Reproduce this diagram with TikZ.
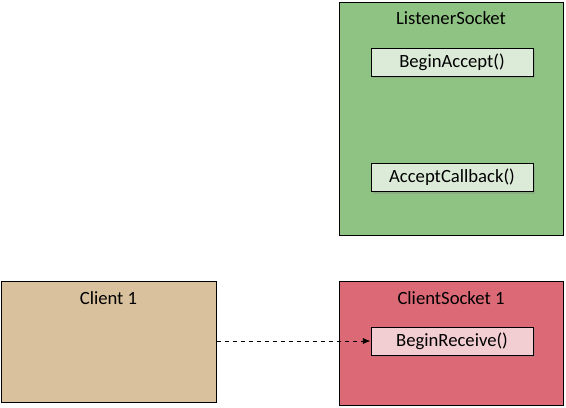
\documentclass[tikz,border=0pt]{standalone}
\usepackage{fontspec}
\setmainfont{Carlito}
\usepackage{tikz}
\usetikzlibrary{positioning,arrows.meta,shadows}

\definecolor{lsgreen}{RGB}{143,195,131}
\definecolor{lsgreenlight}{RGB}{220,235,216}
\definecolor{clienttan}{RGB}{217,193,158}
\definecolor{csred}{RGB}{219,106,118}
\definecolor{csredlight}{RGB}{242,205,210}

\begin{document}
\begin{tikzpicture}[
            x=0.75pt, y=-0.75pt,
            font=\fontsize{14}{16}\selectfont,
            box/.style={rectangle, draw, line width=0.75pt, inner sep=0pt},
            method/.style={box, minimum width=121.5pt, minimum height=21pt,
                drop shadow={shadow xshift=1.5pt, shadow yshift=-1.5pt, opacity=0.3}},
            title/.style={inner sep=0pt, anchor=base},
            arrow/.style={-{Latex[length=2mm,width=1.6mm]}, dashed, line width=0.6pt}
        ]
            \useasboundingbox (0,0) rectangle (566,407);
            % listener socket
            \node[box, fill=lsgreen, minimum width=168pt, minimum height=174.75pt] (lsock) at (451,118.5) {};
            \node[title] (lsocktitle) at (451,24) {ListenerSocket};
            \node[method, fill=lsgreenlight] (accept) at (452,62) {BeginAccept()};
            \node[method, fill=lsgreenlight] (callback) at (452,177.5) {AcceptCallback()};
            % client
            \node[box, fill=clienttan, minimum width=161.25pt, minimum height=90.75pt] (client) at (108.5,341.5) {};
            \node[title] (clienttitle) at (108.5,304) {Client 1};
            % client socket
            \node[box, fill=csred, minimum width=168pt, minimum height=93pt] (csock) at (451,343) {};
            \node[title] (csocktitle) at (451,304) {ClientSocket 1};
            \node[method, fill=csredlight] (receive) at (452,341) {BeginReceive()};
            \draw[arrow] (client.east |- receive.west) -- (receive.west);
        \end{tikzpicture}
\end{document}
